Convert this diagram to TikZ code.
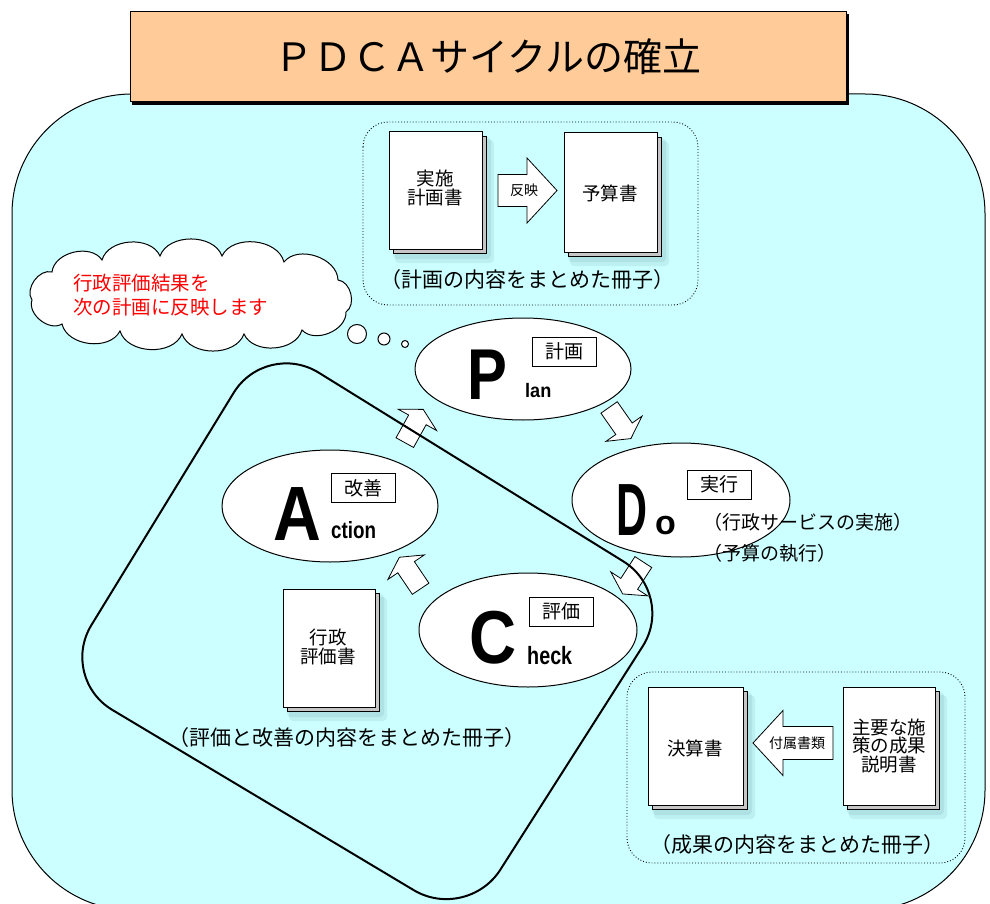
\documentclass[tikz,border=0pt]{standalone}
\usepackage{graphicx}
\usepackage{fontspec}
\setmainfont{Noto Sans CJK JP}
\newfontfamily\lat{Liberation Sans}
\usetikzlibrary{shapes.geometric,shapes.symbols}
\definecolor{bgcyan}{RGB}{204,255,255}
\definecolor{peach}{RGB}{255,204,153}
\definecolor{shadowc}{RGB}{60,110,120}
\newcommand\fs[1]{\fontsize{#1}{#1}\selectfont}
\newcommand\docpage[4]{%
 \fill[shadowc, opacity=0.10, rounded corners=4pt] ({#1+6},{#2+8}) rectangle ({#3+12},{#4+14});
 \fill[shadowc, opacity=0.10, rounded corners=4pt] ({#1+4},{#2+5}) rectangle ({#3+9},{#4+10});
 \draw[fill=gray!45, line width=0.7pt] ({#1+4},{#2+4}) rectangle ({#3+4},{#4+4});
 \draw[fill=white, line width=1pt] (#1,#2) rectangle (#3,#4);}
\newcommand\barrow[7]{%
 \draw[arrowshape, shift={(#1,#2)}, rotate=#3] ({-#4/2},{-#5/2}) -- ({#4/2-#7},{-#5/2}) -- ({#4/2-#7},{-#6/2}) -- ({#4/2},0) -- ({#4/2-#7},{#6/2}) -- ({#4/2-#7},{#5/2}) -- ({-#4/2},{#5/2}) -- cycle;}
\tikzset{
 doctext/.style={font=\fs{18.5}, align=center, inner sep=0pt},
 caption/.style={font=\fs{21}, inner sep=0pt},
 phase/.style={ellipse, draw=black, fill=white, line width=1pt, inner sep=0pt},
 tagbox/.style={draw=black, fill=white, line width=1pt, minimum width=64pt, minimum height=29pt, inner sep=0pt, font=\fs{19}},
 big/.style={inner sep=0pt, anchor=base west},
 arrowshape/.style={draw=black, fill=white, line width=0.8pt, line join=miter},
 dotbox/.style={draw=black, dotted, line width=0.9pt, rounded corners=25pt},
 puff/.style={bend left=70},
}
\begin{document}
\begin{tikzpicture}[x=1pt,y=-1pt]
\useasboundingbox (0,0) rectangle (990,904);
\clip (0,0) rectangle (990,904);
\fill[white] (0,0) rectangle (990,904);
% background
\draw[fill=bgcyan, line width=1pt, rounded corners=120pt] (12,94) rectangle (985,910);
% title
\fill[black] (132,14) rectangle (849,105);
\node[draw=black, fill=peach, line width=1pt, minimum width=716pt, minimum height=90pt, inner sep=0pt, font=\fs{39}] (title) at (488,57) {ＰＤＣＡサイクルの確立};
% top plan box
\draw[dotbox] (363,122) rectangle (698,305);
\docpage{389}{132}{482}{249}
\docpage{564}{133}{657}{252}
\node[doctext] (jisshi) at (435,188) {実施\\[1pt]計画書};
\node[doctext] (yosan) at (610,193) {予算書};
\barrow{527.5}{190.5}{0}{59}{32}{65}{30}
\node[font=\fs{14}, inner sep=0pt] (hanei) at (524,190) {反映};
\node[caption] (cap1) at (527,280) {（計画の内容をまとめた冊子）};
% cloud
\draw[fill=white, line width=1pt] (32,300) to[puff] (52,272) to[puff] (102,260) to[puff] (160,256) to[puff] (222,256) to[puff] (284,262) to[puff] (338,280) to[puff] (346,312) to[puff] (302,330) to[puff] (244,334) to[puff] (182,334) to[puff] (120,331) to[puff] (62,324) to[puff] cycle;
\node[font=\fs{19.5}, text=red, align=left, anchor=west, inner sep=0pt] (cloudtxt) at (73,295) {行政評価結果を\\[4pt]次の計画に反映します};
\node[circle, draw=black, fill=white, line width=1pt, minimum size=19pt, inner sep=0pt] (b1) at (357,334) {};
\node[circle, draw=black, fill=white, line width=1pt, minimum size=12pt, inner sep=0pt] (b2) at (384,339) {};
\node[circle, draw=black, fill=white, line width=1pt, minimum size=7pt, inner sep=0pt] (b3) at (405,344) {};
% bottom right box
\draw[dotbox] (627,672) rectangle (965,863);
\docpage{648}{687}{743}{805}
\docpage{843}{687}{935}{805}
\node[doctext] (kessan) at (695,748) {決算書};
\node[doctext, font=\fs{18.5}] (seika) at (889,746) {主要な施\\策の成果\\説明書};
\barrow{793}{743}{180}{80}{33}{65}{30}
\node[font=\fs{14}, inner sep=0pt] (fuzoku) at (797,743) {付属書類};
\node[caption] (cap3) at (797,845) {（成果の内容をまとめた冊子）};
% evaluation doc
\docpage{283}{589}{375}{707}
\node[doctext] (hyoka) at (328,647) {行政\\[1pt]評価書};
\node[caption] (cap2) at (347,738) {（評価と改善の内容をまとめた冊子）};
% cycle arrows
\barrow{414}{426}{61}{38}{20}{44}{12}
\barrow{620}{423}{-55}{38}{20}{44}{12}
\barrow{633}{578}{-123}{38}{20}{44}{12}
\barrow{410}{573}{124}{38}{20}{44}{12}
% phases
\node[phase, minimum width=216pt, minimum height=102pt] (P) at (523,369) {};
\node[phase, minimum width=218pt, minimum height=114pt] (D) at (681,500) {};
\node[phase, minimum width=216pt, minimum height=112pt] (A) at (330,506) {};
\node[phase, minimum width=218pt, minimum height=114pt] (C) at (528,630) {};
\node[tagbox] (tP) at (564.5,351.5) {計画};
\node[tagbox] (tD) at (719,484.5) {実行};
\node[tagbox] (tA) at (363,488) {改善};
\node[tagbox] (tC) at (561,611.5) {評価};
\node[big, font=\lat\bfseries\fs{72}] (Pl) at (467,399) {\scalebox{0.83}[1]{P}};
\node[big, font=\lat\bfseries\fs{19.5}] (Plan) at (525,397) {\scalebox{0.93}[1]{lan}};
\node[big, font=\lat\bfseries\fs{77}] (Al) at (273,540) {\scalebox{0.86}[1]{A}};
\node[big, font=\lat\bfseries\fs{23.5}] (Act) at (331,538) {\scalebox{0.8}[1]{ction}};
\node[big, font=\lat\bfseries\fs{74}] (Dl) at (616,535) {\scalebox{0.58}[1]{D}};
\node[big, font=\lat\bfseries\fs{34}] (Do) at (655,534) {o};
\node[big, font=\lat\bfseries\fs{75}] (Cl) at (469,663) {\scalebox{0.87}[1]{C}};
\node[big, font=\lat\bfseries\fs{25}] (Ch) at (527,664) {\scalebox{0.79}[1]{heck}};
\node[font=\fs{19}, anchor=west, inner sep=0pt] (dtxt1) at (703,522) {（行政サービスの実施）};
\node[font=\fs{19}, anchor=west, inner sep=0pt] (dtxt2) at (703,553) {（予算の執行）};
% loop
\draw[line width=2pt, rounded corners=62pt] (471,467) -- (676,594) -- (467,922) -- (59,678) -- (266,340) -- cycle;
\end{tikzpicture}
\end{document}
